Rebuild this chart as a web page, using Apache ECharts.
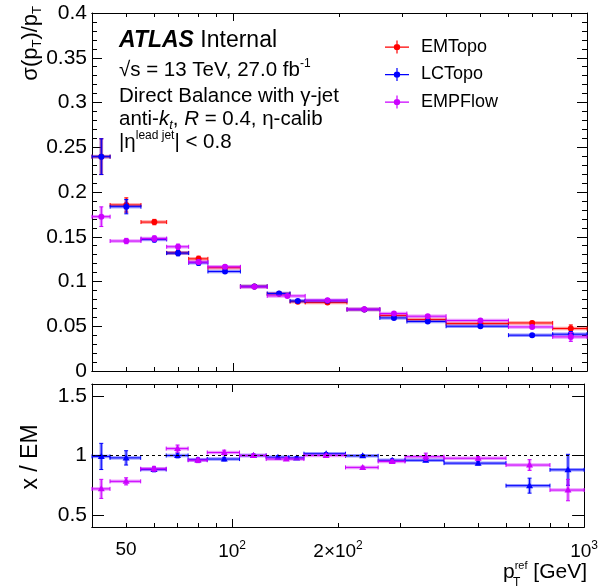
<!DOCTYPE html>
<html>
<head>
<meta charset="utf-8">
<script src="https://cdn.jsdelivr.net/npm/echarts@6/dist/echarts.min.js"></script>
<style>
html,body{margin:0;padding:0;background:#fff}
#main{width:601px;height:588px}
</style>
</head>
<body>
<div id="main"></div>
<script>
// bin edges in GeV (EMPFlow has one bin less around 125-160)
var edgesTopo = [40, 45, 55, 65, 75, 85, 105, 125, 145, 160, 210, 260, 310, 400, 600, 800, 1000];
var edgesPFlow = [40, 45, 55, 65, 75, 85, 105, 125, 160, 210, 260, 310, 400, 600, 800, 1000];

// sigma(pT)/pT
var emtopo = [0.2395, 0.1855, 0.1664, 0.132, 0.1253, 0.1155, 0.0945, 0.0862, 0.0775, 0.0766, 0.0687, 0.062, 0.0575, 0.053, 0.0537, 0.0475];
var emtopoErr = [0.02, 0.008, 0.003, 0.003, 0.003, 0.002, 0.0015, 0.0015, 0.0015, 0.001, 0.001, 0.0012, 0.0012, 0.0012, 0.0018, 0.004];
var lctopo = [0.2395, 0.1836, 0.147, 0.1317, 0.121, 0.1112, 0.0945, 0.0866, 0.0783, 0.0785, 0.0687, 0.0593, 0.0553, 0.05, 0.04, 0.0411];
var lctopoErr = [0.02, 0.008, 0.003, 0.003, 0.003, 0.002, 0.0015, 0.0015, 0.0015, 0.001, 0.001, 0.0012, 0.0012, 0.0012, 0.0018, 0.003];
var pflow = [0.1724, 0.1452, 0.148, 0.1388, 0.1217, 0.1164, 0.094, 0.0839, 0.0791, 0.069, 0.0642, 0.0612, 0.0564, 0.0492, 0.0381];
var pflowErr = [0.011, 0.003, 0.003, 0.003, 0.002, 0.002, 0.0015, 0.0012, 0.001, 0.001, 0.0012, 0.0012, 0.0012, 0.0015, 0.005];

// ratio x / EM
var ratioLC = [0.992, 0.98, 0.883, 1.0, 0.965, 0.97, 1.0, 0.986, 0.98, 1.015, 0.997, 0.96, 0.96, 0.936, 0.747, 0.88];
var ratioLCErr = [0.11, 0.06, 0.02, 0.02, 0.015, 0.015, 0.012, 0.012, 0.012, 0.01, 0.01, 0.012, 0.012, 0.015, 0.063, 0.13];
var ratioPF = [0.72, 0.783, 0.889, 1.058, 0.96, 1.025, 1.0, 0.97, 1.0, 0.9, 0.95, 0.99, 0.977, 0.92, 0.71];
var ratioPFErr = [0.08, 0.03, 0.02, 0.03, 0.02, 0.02, 0.012, 0.012, 0.01, 0.01, 0.012, 0.03, 0.015, 0.045, 0.09];

var xMajor = [100, 1000];
var xMinor = [50, 60, 70, 80, 90, 200, 300, 400, 500, 600, 700, 800, 900];
var xLabelVals = [50, 100, 200, 1000];
var xLabelText = ['50', '10{sup|2}', '2×10{sup|2}', '10{sup|3}'];
var ratioTicks = [0.5, 1, 1.5];

var FONT = 'Liberation Sans, Arial, Helvetica, sans-serif';
var RED = '#ff0000', BLUE = '#0000ff', VIO = '#cc00ff';

function binData(edges, vals, errs) {
  return vals.map(function (v, i) {
    var lo = edges[i], hi = edges[i + 1];
    return [Math.log10(lo), Math.log10(hi), Math.log10((lo + hi) / 2), v, errs[i]];
  });
}

function makeRender(color, light, marker) {
  return function (params, api) {
    var y = api.value(3), e = api.value(4);
    var a = api.coord([api.value(0), y]);
    var b = api.coord([api.value(1), y]);
    var c = api.coord([api.value(2), y]);
    var t = api.coord([api.value(2), y + e])[1];
    var d = api.coord([api.value(2), y - e])[1];
    var wide = {stroke: light, lineWidth: 3.5};
    var thin = {stroke: color, lineWidth: 1};
    var kids = [
      {type: 'line', shape: {x1: a[0], y1: c[1], x2: b[0], y2: c[1]}, style: wide},
      {type: 'line', shape: {x1: c[0], y1: t, x2: c[0], y2: d}, style: wide},
      {type: 'line', shape: {x1: a[0], y1: c[1], x2: b[0], y2: c[1]}, style: thin},
      {type: 'line', shape: {x1: c[0], y1: t, x2: c[0], y2: d}, style: thin},
      {type: 'line', shape: {x1: a[0], y1: c[1] - 2, x2: a[0], y2: c[1] + 2}, style: thin},
      {type: 'line', shape: {x1: b[0], y1: c[1] - 2, x2: b[0], y2: c[1] + 2}, style: thin},
      {type: 'line', shape: {x1: c[0] - 2, y1: t, x2: c[0] + 2, y2: t}, style: thin},
      {type: 'line', shape: {x1: c[0] - 2, y1: d, x2: c[0] + 2, y2: d}, style: thin}
    ];
    if (marker === 'circle') {
      kids.push({type: 'circle', shape: {cx: c[0], cy: c[1], r: 3}, style: {fill: color}});
    } else {
      kids.push({type: 'polygon', shape: {points: [[c[0], c[1] - 3.5], [c[0] - 3.5, c[1] + 2.5], [c[0] + 3.5, c[1] + 2.5]]}, style: {fill: color}});
    }
    return {type: 'group', children: kids};
  };
}

var supStyle = {fontSize: 12, fontFamily: FONT, padding: [0, 0, 12, 0]};
var subStyle = {fontSize: 13, fontFamily: FONT, padding: [13, 0, 0, 0]};

function xAx(grid, pos, ticks, len, withLabels) {
  var ax = {
    type: 'value', gridIndex: grid, position: pos,
    min: Math.log10(40), max: 3,
    axisLine: {show: true, onZero: false, lineStyle: {color: '#000', width: 1}},
    axisTick: {show: true, inside: true, length: len, customValues: ticks.map(function (v) { return Math.log10(v); }), lineStyle: {color: '#000', width: 1}},
    axisLabel: {show: false},
    splitLine: {show: false}
  };
  if (withLabels) {
    ax.axisLabel = {
      show: true, margin: 13, color: '#000', fontSize: 19, fontFamily: FONT,
      customValues: xLabelVals.map(function (v) { return Math.log10(v); }),
      formatter: function (val) {
        var best = 0;
        xLabelVals.forEach(function (v, i) {
          if (Math.abs(Math.log10(v) - val) < Math.abs(Math.log10(xLabelVals[best]) - val)) best = i;
        });
        return xLabelText[best];
      },
      rich: {sup: supStyle}
    };
  }
  return ax;
}

var xAxes = [
  xAx(0, 'bottom', xMajor, 8, false), xAx(0, 'bottom', xMinor, 4, false),
  xAx(0, 'top', xMajor, 8, false), xAx(0, 'top', xMinor, 4, false),
  xAx(1, 'bottom', xMajor, 8, true), xAx(1, 'bottom', xMinor, 4, false),
  xAx(1, 'top', xMajor, 8, false), xAx(1, 'top', xMinor, 4, false)
];

function yTop(pos, labels) {
  return {
    type: 'value', gridIndex: 0, position: pos, min: 0, max: 0.4, interval: 0.05,
    axisLine: {show: true, lineStyle: {color: '#000', width: 1}},
    axisTick: {show: true, inside: true, length: 10, lineStyle: {color: '#000'}},
    minorTick: {show: true, splitNumber: 5, length: 5, lineStyle: {color: '#000'}},
    axisLabel: {show: labels, color: '#000', fontSize: 21, fontFamily: FONT, margin: 5},
    splitLine: {show: false}
  };
}
function yRatio(pos, labels) {
  return {
    type: 'value', gridIndex: 1, position: pos, min: 0.4, max: 1.6,
    axisLine: {show: true, lineStyle: {color: '#000', width: 1}},
    axisTick: {show: true, inside: true, length: 12, customValues: ratioTicks, lineStyle: {color: '#000'}},
    axisLabel: {show: labels, customValues: ratioTicks, color: '#000', fontSize: 21, fontFamily: FONT, margin: 5},
    splitLine: {show: false}
  };
}

function binSeries(name, xi, yi, data, color, light, marker, extra) {
  var s = {
    name: name, type: 'custom', xAxisIndex: xi, yAxisIndex: yi,
    itemStyle: {color: color},
    encode: {x: [0, 1, 2], y: 3},
    renderItem: makeRender(color, light, marker),
    data: data, silent: true
  };
  if (extra) s.markLine = extra;
  return s;
}

var chart = echarts.init(document.getElementById('main'), null, {renderer: 'canvas'});
chart.setOption({
  animation: false,
  backgroundColor: '#fff',
  grid: [
    {left: 92, top: 13, width: 495, height: 358},
    {left: 92, top: 384, width: 495, height: 143}
  ],
  xAxis: xAxes,
  yAxis: [yTop('left', true), yTop('right', false), yRatio('left', true), yRatio('right', false)],
  legend: {
    data: ['EMTopo', 'LCTopo', 'EMPFlow'],
    orient: 'vertical', left: 385, top: 38, padding: 0,
    itemWidth: 24, itemHeight: 13, itemGap: 9.5,
    icon: 'path://M0,6 h24 v1.2 h-24 z M11.4,0 h1.2 v13 h-1.2 z M15.2,6.6 A3.2,3.2 0 1 1 8.8,6.6 A3.2,3.2 0 1 1 15.2,6.6 z',
    textStyle: {fontSize: 18, fontFamily: FONT, color: '#000', padding: [0, 0, 0, 7]}
  },
  series: [
    binSeries('EMTopo', 0, 0, binData(edgesTopo, emtopo, emtopoErr), RED, 'rgba(255,0,0,0.4)', 'circle'),
    binSeries('LCTopo', 0, 0, binData(edgesTopo, lctopo, lctopoErr), BLUE, 'rgba(0,0,255,0.4)', 'circle'),
    binSeries('EMPFlow', 0, 0, binData(edgesPFlow, pflow, pflowErr), VIO, 'rgba(204,0,255,0.4)', 'circle'),
    binSeries('LCTopo', 4, 2, binData(edgesTopo, ratioLC, ratioLCErr), BLUE, 'rgba(0,0,255,0.4)', 'triangle', {
      silent: true, symbol: 'none', label: {show: false},
      lineStyle: {color: '#000', type: [3, 3], width: 1},
      data: [{yAxis: 1}]
    }),
    binSeries('EMPFlow', 4, 2, binData(edgesPFlow, ratioPF, ratioPFErr), VIO, 'rgba(204,0,255,0.4)', 'triangle')
  ],
  graphic: [
    {type: 'text', x: 119, y: 41, style: {text: '{b|ATLAS} Internal', fontSize: 23, fontFamily: FONT, fill: '#000', verticalAlign: 'middle',
      rich: {b: {fontSize: 23, fontFamily: FONT, fontWeight: 'bold', fontStyle: 'italic'}}}},
    {type: 'text', x: 119, y: 70, style: {text: '√s = 13 TeV, 27.0 fb{sup|-1}', fontSize: 20.5, fontFamily: FONT, fill: '#000', verticalAlign: 'middle', rich: {sup: supStyle}}},
    {type: 'text', x: 119, y: 96, style: {text: 'Direct Balance with γ-jet', fontSize: 20.5, fontFamily: FONT, fill: '#000', verticalAlign: 'middle'}},
    {type: 'text', x: 119, y: 119, style: {text: 'anti-{i|k}{sub|t}, {i|R} = 0.4, η-calib', fontSize: 20.5, fontFamily: FONT, fill: '#000', verticalAlign: 'middle',
      rich: {i: {fontSize: 20.5, fontFamily: FONT, fontStyle: 'italic'}, sub: {fontSize: 13, fontFamily: FONT, fontStyle: 'italic', padding: [13, 0, 0, 0]}}}},
    {type: 'text', x: 119, y: 142, style: {text: '|η{sup|lead jet}| < 0.8', fontSize: 20.5, fontFamily: FONT, fill: '#000', verticalAlign: 'middle', rich: {sup: supStyle}}},
    {type: 'text', x: 31, y: 6, rotation: Math.PI / 2, style: {text: 'σ(p{sub|T})/p{sub|T}', fontSize: 22, fontFamily: FONT, fill: '#000', align: 'right', verticalAlign: 'middle', rich: {sub: subStyle}}},
    {type: 'text', x: 31, y: 457, rotation: Math.PI / 2, style: {text: 'x / EM', fontSize: 23, fontFamily: FONT, fill: '#000', align: 'center', verticalAlign: 'middle'}},
    {type: 'text', x: 587, y: 572, style: {text: 'p{sup|ref} [GeV]', fontSize: 21, fontFamily: FONT, fill: '#000', align: 'right', verticalAlign: 'middle', rich: {sup: {fontSize: 11, fontFamily: FONT, padding: [0, 0, 12, 0]}}}},
    {type: 'text', x: 513, y: 583, style: {text: 'T', fontSize: 12, fontFamily: FONT, fill: '#000', align: 'left', verticalAlign: 'middle'}}
  ]
});
</script>
</body>
</html>
